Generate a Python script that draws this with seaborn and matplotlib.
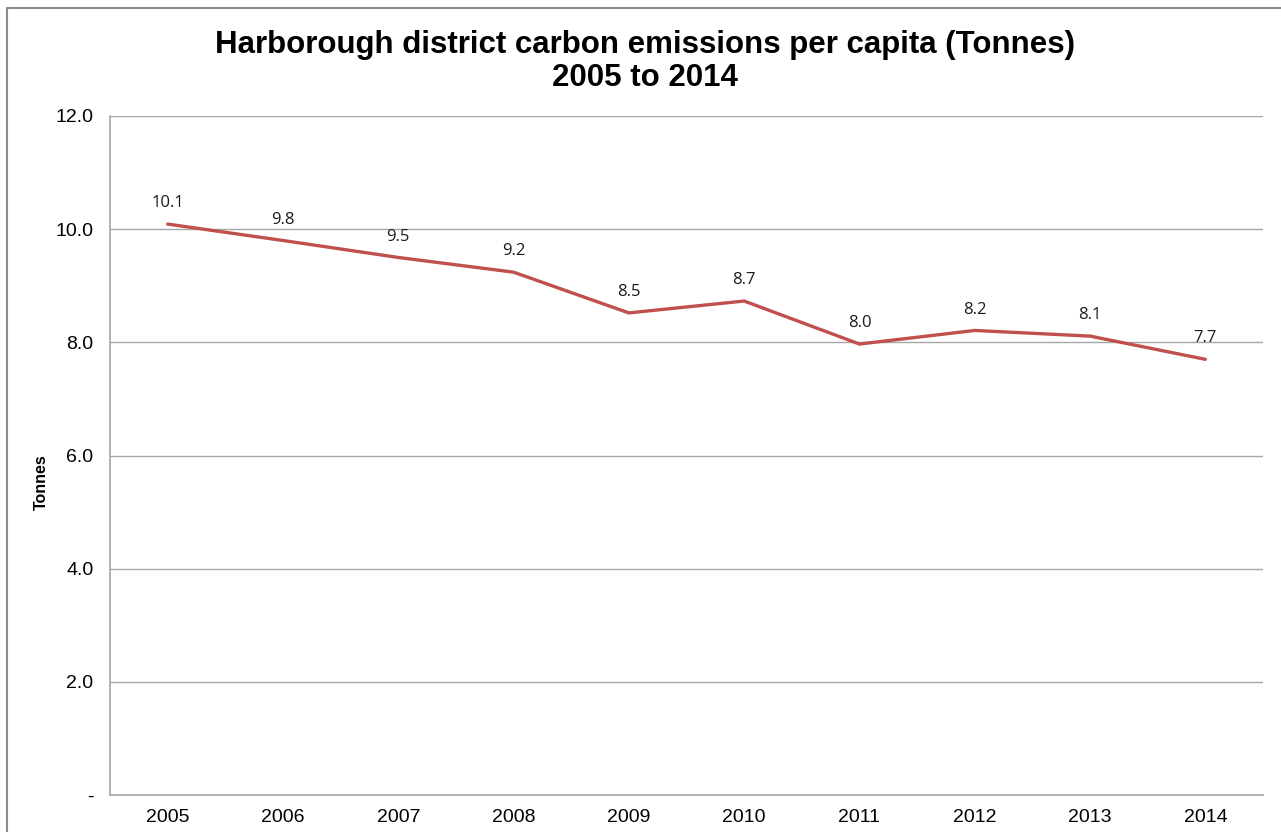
import matplotlib
matplotlib.use("Agg")
import matplotlib.pyplot as plt
import seaborn as sns
import pandas as pd
from matplotlib.patches import Rectangle

years = [2005, 2006, 2007, 2008, 2009, 2010, 2011, 2012, 2013, 2014]
emissions = [10.09, 9.80, 9.50, 9.24, 8.52, 8.73, 7.97, 8.21, 8.11, 7.70]
value_labels = ["10.1", "9.8", "9.5", "9.2", "8.5", "8.7", "8.0", "8.2", "8.1", "7.7"]
y_ticks = [0, 2, 4, 6, 8, 10, 12]
y_tick_labels = ["-", "2.0", "4.0", "6.0", "8.0", "10.0", "12.0"]

df = pd.DataFrame({"year": years, "value": emissions})

sns.set_theme(style="white")
plt.rcParams["font.family"] = ["Liberation Sans", "DejaVu Sans"]
plt.rcParams["text.color"] = "black"
plt.rcParams["axes.labelcolor"] = "black"

fig = plt.figure(figsize=(12.81, 8.32), dpi=100)
fig.patch.set_facecolor("white")
fig.patches.append(Rectangle((7 / 1281, -0.1), 1.2, 1.1 - 8 / 832,
                             transform=fig.transFigure, fill=False,
                             edgecolor="#8c8c8c", linewidth=1.5, zorder=0))

ax = fig.add_axes([110 / 1281, 37 / 832, (1263 - 110) / 1281, (795 - 116) / 832])
sns.lineplot(data=df, x="year", y="value", ax=ax, color="#C0504D", linewidth=2.4)

ax.set_xlim(years[0] - 0.5, years[-1] + 0.5)
ax.set_ylim(0, 12)
ax.set_yticks(y_ticks)
ax.set_yticklabels(y_tick_labels, fontsize=14)
ax.set_xticks(years)
ax.set_xticklabels([str(y) for y in years], fontsize=14)
ax.tick_params(axis="both", length=0, pad=12, colors="black")
ax.tick_params(axis="x", pad=10)
ax.grid(axis="y", color="#a6a6a6", linewidth=1)
ax.set_axisbelow(True)
for s in ["top", "right"]:
    ax.spines[s].set_visible(False)
for s in ["left", "bottom"]:
    ax.spines[s].set_color("#a6a6a6")
    ax.spines[s].set_linewidth(1.2)

ax.set_xlabel("")
ax.set_ylabel("Tonnes", fontsize=11.5, fontweight="bold", color="black")
ax.yaxis.set_label_coords((49 - 110) / 1153, (795 - 482) / 679)

for x, v, lab in zip(years, emissions, value_labels):
    ax.annotate(lab, (x, v), xytext=(0, 15), textcoords="offset points",
                ha="center", va="center", fontsize=12, family=["Open Sans", "DejaVu Sans"],
                color="#1a1a1a")

fig.text(645 / 1281, 1 - 45 / 832, "Harborough district carbon emissions per capita (Tonnes)",
         ha="center", va="center", fontsize=22.5, fontweight="bold", color="black")
fig.text(645 / 1281, 1 - 78 / 832, "2005 to 2014",
         ha="center", va="center", fontsize=22.5, fontweight="bold", color="black")

fig.savefig("out.png", dpi=100)
